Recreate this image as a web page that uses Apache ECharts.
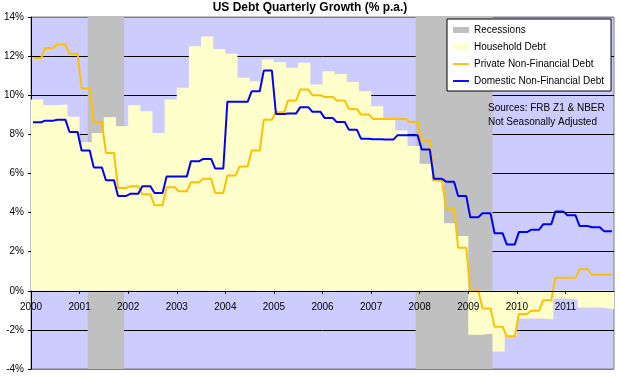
<!DOCTYPE html>
<html>
<head>
<meta charset="utf-8">
<script src="https://cdn.jsdelivr.net/npm/echarts@6/dist/echarts.min.js"></script>
<style>
    html, body { margin: 0; padding: 0; background: #fff; }
    #chart { width: 620px; height: 377px; }
</style>
</head>
<body>
<div id="chart"></div>
<script>
// quarterly growth in % p.a., 2000Q1 .. 2011Q4
const firstYear = 2000;
const lastYear  = 2012;

const household = [
    9.78, 9.49, 9.52, 8.9,
    7.6, 8.07, 8.87, 8.41,
    9.49, 9.18, 8.07, 9.78,
    10.38, 12.51, 13.0, 12.37,
    12.12, 10.89, 10.72, 11.83,
    11.69, 11.4, 11.66, 10.55,
    11.23, 11.09, 10.68, 10.2,
    9.44, 8.75, 8.2, 7.4,
    6.5, 5.6, 3.45, 2.8,
    -2.25, -2.2, -3.1, -2.3,
    -1.42, -1.42, -1.45, -0.4,
    -0.45, -0.85, -0.85, -0.94
];

const privateNonFin = [
    11.9, 12.42, 12.59, 12.12,
    10.34, 8.63, 7.05, 5.26,
    5.35, 4.93, 4.37, 5.29,
    5.09, 5.55, 5.73, 5.0,
    5.89, 6.35, 7.17, 8.75,
    9.13, 9.73, 10.29, 10.0,
    9.91, 9.73, 9.3, 9.01,
    8.79, 8.79, 8.79, 8.63,
    7.66, 5.65, 4.2, 2.2,
    0.0, -0.9, -1.84, -2.33,
    -1.19, -1.02, -0.48, 0.66,
    0.66, 1.1, 0.82, 0.82
];

const domesticNonFin = [
    8.62, 8.7, 8.75, 8.12,
    7.17, 6.31, 5.65, 4.85,
    4.96, 5.34, 5.0, 5.85,
    5.85, 6.62, 6.74, 6.25,
    9.66, 9.66, 10.2, 11.26,
    9.04, 9.07, 9.39, 9.15,
    8.84, 8.63, 8.24, 7.78,
    7.75, 7.73, 7.95, 7.95,
    7.22, 5.73, 5.58, 4.85,
    3.76, 3.96, 2.94, 2.37,
    3.0, 3.12, 3.4, 4.05,
    3.86, 3.31, 3.25, 3.05
];

// NBER recessions, first and last month
const recessions = [['2001-03', '2001-11'], ['2007-12', '2009-06']];

const yMin  = -4;
const yMax  = 14;
const yStep = 2;

const names = ['Recessions', 'Household Debt', 'Private Non-Financial Debt', 'Domestic Non-Financial Debt'];

const monthStart = s => {
    const [y, m] = s.split('-').map(Number);
    return y + (m - 1) / 12;
};

// each quarter's value repeated for its three months (mid-month points)
const monthly = values => {
    const out = [];
    values.forEach((v, i) => {
        for (let k = 0; k < 3; k++) out.push([firstYear + i / 4 + (2 * k + 1) / 24, v]);
    });
    return out;
};

// quarter starts, plus closing point so the last block gets drawn
const quarterSteps = values => {
    const out = values.map((v, i) => [firstYear + i / 4, v]);
    out.push([firstYear + values.length / 4, values[values.length - 1]]);
    return out;
};

const recessionData = recessions.map(r => [monthStart(r[0]), monthStart(r[1]) + 1 / 12]);

const font = 'Liberation Sans, Arial, sans-serif';
const lineIcon = 'path://M0,0H17V2H0Z';

const gridTop = 17, gridBottom = 8, chartHeight = 377;
const plotHeight = chartHeight - gridTop - gridBottom;
// the category axis sits on the 0% line, labels included
const zeroOffset = -plotHeight * (0 - yMin) / (yMax - yMin);

// grid lines: frame colour on the edges, black inside
const splitColors = [];
for (let v = yMin; v <= yMax; v += yStep) splitColors.push(v === yMin || v === yMax ? '#808080' : '#000');

const chart = echarts.init(document.getElementById('chart'));

chart.setOption({
    animation: false,
    textStyle: { fontFamily: font },
    title: {
        text: 'US Debt Quarterly Growth (% p.a.)',
        left: 'center',
        top: 2,
        padding: 0,
        textStyle: { fontFamily: font, fontSize: 12, fontWeight: 'bold', color: '#000' }
    },
    legend: {
        orient: 'vertical',
        left: 447,
        top: 19,
        padding: [5, 7, 4, 6],
        itemWidth: 16,
        itemHeight: 6,
        itemGap: 5,
        backgroundColor: '#fff',
        borderColor: '#000',
        borderWidth: 1,
        borderRadius: 0,
        selectedMode: false,
        textStyle: { fontFamily: font, fontSize: 10, lineHeight: 12, color: '#000' },
        data: [
            { name: names[0], icon: 'rect' },
            { name: names[1], icon: 'rect' },
            { name: names[2], icon: lineIcon },
            { name: names[3], icon: lineIcon }
        ]
    },
    graphic: [{
        type: 'text',
        left: 488,
        top: 101,
        z: 10,
        style: {
            text: 'Sources: FRB Z1 & NBER\nNot Seasonally Adjusted',
            font: '10px ' + font,
            lineHeight: 14,
            fill: '#000'
        }
    }],
    grid: {
        left: 31,
        right: 6,
        top: gridTop,
        bottom: gridBottom,
        show: true,
        backgroundColor: '#CCCCFF',
        borderColor: '#808080',
        borderWidth: 1
    },
    xAxis: {
        type: 'value',
        min: firstYear,
        max: lastYear,
        interval: 1,
        z: 10,
        offset: zeroOffset,
        axisLine: { onZero: false, lineStyle: { color: '#000', width: 1 } },
        axisTick: { show: true, length: 3, lineStyle: { color: '#000' } },
        axisLabel: {
            margin: 11,
            fontSize: 10,
            color: '#000',
            showMaxLabel: false,
            formatter: v => String(v)
        },
        splitLine: { show: false }
    },
    yAxis: {
        type: 'value',
        min: yMin,
        max: yMax,
        interval: yStep,
        axisLine: { show: true, lineStyle: { color: '#000' } },
        axisTick: { show: true, length: 3, lineStyle: { color: '#000' } },
        axisLabel: { margin: 7, fontSize: 10, color: '#000', formatter: '{value}%' },
        splitLine: { show: true, lineStyle: { color: splitColors, width: 1 } }
    },
    series: [
        {
            name: names[0],
            type: 'custom',
            z: 1,
            itemStyle: { color: '#C0C0C0' },
            data: recessionData,
            renderItem(params, api) {
                const p0 = api.coord([api.value(0), yMax]);
                const p1 = api.coord([api.value(1), yMin]);
                return {
                    type: 'rect',
                    shape: { x: p0[0], y: p0[1], width: p1[0] - p0[0], height: p1[1] - p0[1] },
                    style: { fill: '#C0C0C0' }
                };
            }
        },
        {
            name: names[1],
            type: 'line',
            z: 2,
            step: 'end',
            symbol: 'none',
            color: '#FFFFCC',
            lineStyle: { width: 0 },
            areaStyle: { color: '#FFFFCC', opacity: 1 },
            data: quarterSteps(household)
        },
        {
            name: names[2],
            type: 'line',
            z: 3,
            symbol: 'none',
            color: '#FFC000',
            lineStyle: { color: '#FFC000', width: 2 },
            data: monthly(privateNonFin)
        },
        {
            name: names[3],
            type: 'line',
            z: 4,
            symbol: 'none',
            color: '#0000FF',
            lineStyle: { color: '#0000FF', width: 2 },
            data: monthly(domesticNonFin)
        }
    ]
});
</script>
</body>
</html>
